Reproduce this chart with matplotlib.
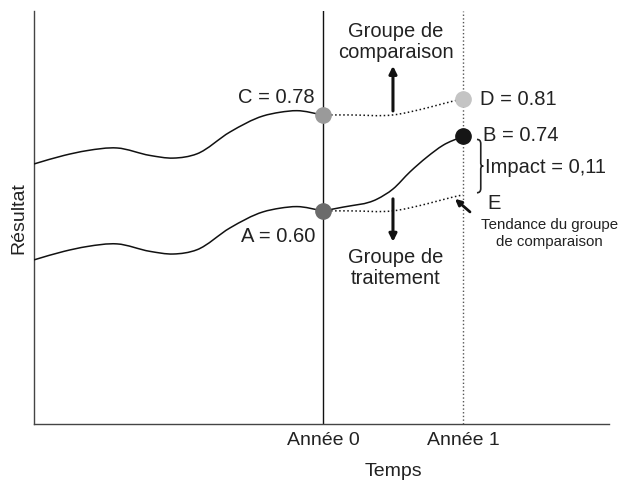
import numpy as np
import matplotlib
matplotlib.use("Agg")
import matplotlib.pyplot as plt
from matplotlib.path import Path
from matplotlib.patches import PathPatch

plt.rcParams['font.family'] = ['Liberation Sans', 'DejaVu Sans']

# Pre-period trajectories (time in years relative to baseline)
pre_time = [-2.064, -1.85, -1.686, -1.471, -1.236, -1.071, -0.90,
            -0.664, -0.429, -0.307, -0.186, 0.0]
comparison_pre = [0.688, 0.704, 0.713, 0.718, 0.704, 0.699, 0.707,
                  0.748, 0.778, 0.785, 0.788, 0.78]
treatment_pre = [0.508, 0.524, 0.533, 0.538, 0.524, 0.519, 0.527,
                 0.568, 0.598, 0.605, 0.608, 0.60]

# Post-period trajectories
post_time = [0.0, 0.19, 0.50, 0.74, 0.93, 1.0]
comparison_post = [0.78, 0.780, 0.780, 0.793, 0.806, 0.81]
counterfactual_post = [0.60, 0.600, 0.600, 0.613, 0.626, 0.63]
treat_time = [0.0, 0.143, 0.386, 0.50, 0.621, 0.743, 0.857, 1.0]
treatment_post = [0.60, 0.607, 0.622, 0.641, 0.673, 0.701, 0.723, 0.74]

# Key points
point_names = ["A", "B", "C", "D"]
point_time = [0, 1, 0, 1]
point_values = [0.60, 0.74, 0.78, 0.81]
point_colors = ["#6b6b6b", "#161616", "#9a9a9a", "#c4c4c4"]
E_value = 0.63
impact_label = "Impact = 0,11"

x_ticks = [0, 1]
x_tick_labels = ["Année 0", "Année 1"]


def smooth_path(xs, ys):
    """Cubic Hermite curve through the given points, as a Bezier path."""
    x = np.asarray(xs, float)
    y = np.asarray(ys, float)
    h = np.diff(x)
    s = np.diff(y) / h
    m = np.empty_like(y)
    m[0], m[-1] = s[0], s[-1]
    m[1:-1] = (s[:-1] * h[1:] + s[1:] * h[:-1]) / (h[:-1] + h[1:])
    verts = [(x[0], y[0])]
    codes = [Path.MOVETO]
    for i in range(len(x) - 1):
        verts += [(x[i] + h[i] / 3, y[i] + m[i] * h[i] / 3),
                  (x[i + 1] - h[i] / 3, y[i + 1] - m[i + 1] * h[i] / 3),
                  (x[i + 1], y[i + 1])]
        codes += [Path.CURVE4] * 3
    return Path(verts, codes)


fig = plt.figure(figsize=(6.25, 4.81), dpi=100)
ax = fig.add_axes([0.0544, 0.1164, 0.92, 0.8586])
ax.set_xlim(-2.064, 2.043)
ax.set_ylim(0.20, 0.975)

text_color = "#222222"

for xs, ys, ls in [(pre_time, comparison_pre, "-"),
                   (pre_time, treatment_pre, "-"),
                   (treat_time, treatment_post, "-"),
                   (post_time, comparison_post, ":"),
                   (post_time, counterfactual_post, ":")]:
    ax.add_patch(PathPatch(smooth_path(xs, ys), facecolor="none",
                           edgecolor="#111111", lw=1.1, linestyle=ls, zorder=3))

# Year markers
ax.axvline(0, color="#111111", lw=1.0, zorder=2)
ax.axvline(1, color="#555555", lw=1.0, linestyle=":", zorder=2)

for t, v, c in zip(point_time, point_values, point_colors):
    ax.plot([t], [v], "o", ms=11, color=c, mec=c, zorder=5)

labels = [f"{n} = {v:.2f}" for n, v in zip(point_names, point_values)]
ax.annotate(labels[2], (0, point_values[2]), xytext=(-8, 18),
            textcoords="offset pixels", ha="right", va="center",
            fontsize=14.5, color=text_color)
ax.annotate(labels[0], (0, point_values[0]), xytext=(-8, -25),
            textcoords="offset pixels", ha="right", va="center",
            fontsize=14.5, color=text_color)
ax.annotate(labels[3], (1, point_values[3]), xytext=(17, 0),
            textcoords="offset pixels", ha="left", va="center",
            fontsize=14.5, color=text_color)
ax.annotate(labels[1], (1, point_values[1]), xytext=(20, 2),
            textcoords="offset pixels", ha="left", va="center",
            fontsize=14.5, color=text_color)
ax.annotate("E", (1, E_value), xytext=(24, -8),
            textcoords="offset pixels", ha="left", va="center",
            fontsize=14.5, color=text_color)

# Brace between B and E
b_top = point_values[1] - 0.006
b_bot = E_value + 0.004
b_mid = (b_top + b_bot) / 2
bx = 1.10
bw = 0.045
brace = Path([(bx, b_top), (bx + bw * 0.6, b_top), (bx + bw * 0.6, b_top - 0.008),
              (bx + bw * 0.6, b_mid + 0.01),
              (bx + bw * 0.6, b_mid + 0.002), (bx + bw * 0.6, b_mid), (bx + bw, b_mid),
              (bx + bw * 0.6, b_mid), (bx + bw * 0.6, b_mid - 0.002), (bx + bw * 0.6, b_mid - 0.01),
              (bx + bw * 0.6, b_bot + 0.008),
              (bx + bw * 0.6, b_bot), (bx, b_bot)],
             [Path.MOVETO, Path.CURVE3, Path.CURVE3, Path.LINETO,
              Path.CURVE4, Path.CURVE4, Path.CURVE4,
              Path.CURVE4, Path.CURVE4, Path.CURVE4, Path.LINETO,
              Path.CURVE3, Path.CURVE3])
ax.add_patch(PathPatch(brace, facecolor="none", edgecolor="#222222", lw=1.2, zorder=4))
ax.text(1.16, b_mid, impact_label, ha="left", va="center",
        fontsize=14.5, color=text_color)

# Direction arrows and group labels
ax.annotate("", xy=(0.5, 0.872), xytext=(0.5, 0.7875),
            arrowprops=dict(arrowstyle="-|>", lw=2.2, color="#111111",
                            mutation_scale=11, shrinkA=0, shrinkB=0))
ax.annotate("", xy=(0.5, 0.542), xytext=(0.5, 0.6225),
            arrowprops=dict(arrowstyle="-|>", lw=2.2, color="#111111",
                            mutation_scale=11, shrinkA=0, shrinkB=0))
ax.text(0.52, 0.919, "Groupe de\ncomparaison", ha="center", va="center",
        fontsize=14.5, color=text_color, linespacing=1.1)
ax.text(0.52, 0.495, "Groupe de\ntraitement", ha="center", va="center",
        fontsize=14.5, color=text_color, linespacing=1.1)

ax.annotate("", xy=(0.943, 0.6225), xytext=(1.05, 0.598),
            arrowprops=dict(arrowstyle="-|>", lw=2.0, color="#111111",
                            mutation_scale=9, shrinkA=0, shrinkB=0))
ax.text(1.62, 0.559, "Tendance du groupe\nde comparaison", ha="center",
        va="center", fontsize=10.8, color=text_color, linespacing=1.25)

# Axes styling
for side in ("top", "right"):
    ax.spines[side].set_visible(False)
for side in ("left", "bottom"):
    ax.spines[side].set_color("#444444")
    ax.spines[side].set_linewidth(1.0)
ax.set_yticks([])
ax.set_xticks(x_ticks)
ax.set_xticklabels(x_tick_labels, fontsize=14, color=text_color)
ax.tick_params(axis="x", length=0, pad=5)
ax.text(0.5, -0.113, "Temps", transform=ax.get_xaxis_transform(),
        ha="center", va="center", fontsize=14, color=text_color)
ax.set_ylabel("Résultat", fontsize=14, color=text_color, labelpad=5)

fig.savefig("out.png", dpi=100)
